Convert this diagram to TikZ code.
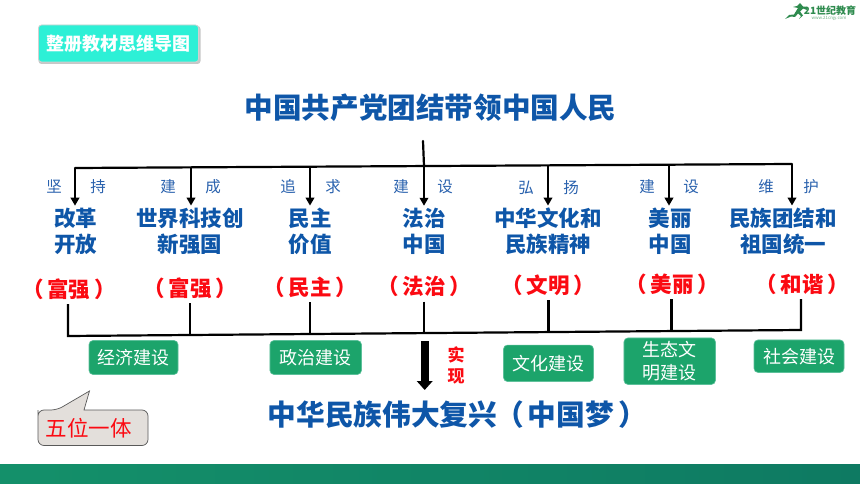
\documentclass[tikz,border=0pt]{standalone}
\usepackage{fontspec}
\setmainfont{Noto Sans CJK SC}
\usetikzlibrary{arrows.meta}
\definecolor{navy}{HTML}{0E56A8}
\definecolor{kai}{HTML}{2A62AE}
\definecolor{hot}{HTML}{FB0A12}
\definecolor{leaf}{HTML}{1CA46B}
\definecolor{leafedge}{HTML}{5CC09A}
\definecolor{aqua}{HTML}{2DF0D6}
\definecolor{stone}{HTML}{E3DFDB}
\definecolor{barl}{HTML}{14906A}
\definecolor{barr}{HTML}{0E7A62}
\definecolor{logo}{HTML}{2E8B4E}
\tikzset{
  x=1pt,y=-1pt,
  headline/.style={inner sep=0,text=navy,font=\fontsize{#1}{#1}\selectfont\bfseries},
  goal/.style={inner sep=0,outer sep=2pt,text=navy,align=center,font=\fontsize{21.5}{26}\selectfont\bfseries},
  verb/.style={inner sep=0,text=kai,font=\fontsize{15.5}{16}\selectfont},
  value/.style={inner sep=0,minimum height=30pt,text=hot,font=\fontsize{21.5}{21.5}\selectfont\bfseries},
  field/.style={draw=leafedge,line width=.6pt,fill=leaf,rounded corners=4pt,text=white,align=center,inner sep=0,font=\fontsize{18}{23}\selectfont},
  bus/.style={line width=2.2pt,line cap=round,line join=miter,draw=black},
  arrowline/.style={line width=2pt,draw=black,-{Triangle[length=8pt,width=8.5pt]}},
}
\begin{document}
\begin{tikzpicture}
\useasboundingbox (0,0) rectangle (860,484);
\fill[white] (0,0) rectangle (860,484);
% bottom bar
\shade[left color=barl,right color=barr] (0,464) rectangle (860,484);
% logo
\fill[logo] (785,19) -- (791,16.5) -- (795,17) -- (798,13.5) -- (801,16) -- (799,19) -- (803,15.5) -- (800,11.5) -- (803,8.5) -- (807,10) -- (807,7) -- (803,6.5) -- (800,3) -- (797,6) -- (793,7) -- (798,8) -- (794,14.5) -- (789,15) -- cycle;
\node[inner sep=0,text=logo,font=\fontsize{10}{10}\selectfont\bfseries\itshape] (logotext) at (830,11) {21世纪教育};
\node[inner sep=0,text=logo!70,font=\fontsize{4.4}{5}\selectfont] (logourl) at (829,18) {www.21cnjy.com};
% button
\fill[black!22,rounded corners=3pt] (38.5,26) rectangle (200.5,64);
\node[draw=black!18,line width=.8pt,fill=aqua,rounded corners=3pt,minimum width=160pt,minimum height=37pt,inner sep=0,text=white,font=\fontsize{18}{18}\selectfont\bfseries] (btn) at (118.5,43.5) {整册教材思维导图};
% title
\node[headline=28.6] (title) at (430.5,108) {中国共产党团结带领中国人民};
\coordinate (tt) at (423,141);
% goals
\node[goal] (g1) at (75.5,231) {改革\\开放};
\node[goal] (g2) at (190,231) {世界科技创\\新强国};
\node[goal] (g3) at (310,231) {民主\\价值};
\node[goal] (g4) at (424,231) {法治\\中国};
\node[goal] (g5) at (548,231) {中华文化和\\民族精神};
\node[goal] (g6) at (670,231) {美丽\\中国};
\node[goal] (g7) at (783,231) {民族团结和\\祖国统一};
% upper bus
\coordinate (b1) at (75,168);
\coordinate (b2) at (191,167.6);
\coordinate (b3) at (310,166.9);
\coordinate (b4) at (424,166);
\coordinate (b5) at (548,165.4);
\coordinate (b6) at (669,164.7);
\coordinate (b7) at (792,164);
\draw[bus] (b1) -- (b7);
\draw[bus] (tt) -- (b4);
\foreach \i in {1,...,7}{\draw[arrowline] (b\i) -- (b\i |- g\i.north);}
% verbs
\node[verb] (v1a) at (54,187) {坚};
\node[verb] (v1b) at (98,187) {持};
\node[verb] (v2a) at (168,187) {建};
\node[verb] (v2b) at (213,187) {成};
\node[verb] (v3a) at (288,187) {追};
\node[verb] (v3b) at (333,187) {求};
\node[verb] (v4a) at (401,187) {建};
\node[verb] (v4b) at (445,187) {设};
\node[verb] (v5a) at (526,188) {弘};
\node[verb] (v5b) at (571,188) {扬};
\node[verb] (v6a) at (647,187) {建};
\node[verb] (v6b) at (691,187) {设};
\node[verb] (v7a) at (766,187) {维};
\node[verb] (v7b) at (811,187) {护};
% values
\node[value] (r1) at (69,289) {（\hspace{4pt}富强\hspace{4pt}）};
\node[value] (r2) at (190,288) {（\hspace{4pt}富强\hspace{4pt}）};
\node[value] (r3) at (310,287) {（\hspace{4pt}民主\hspace{4pt}）};
\node[value] (r4) at (424,286.5) {（\hspace{4pt}法治\hspace{4pt}）};
\node[value] (r5) at (548,285) {（\hspace{4pt}文明\hspace{4pt}）};
\node[value] (r6) at (672,284) {（\hspace{4pt}美丽\hspace{4pt}）};
\node[value] (r7) at (802,284) {（\hspace{4pt}和谐\hspace{4pt}）};
% lower bus
\coordinate (l1) at (68,336);
\coordinate (l2) at (190,335);
\coordinate (l3) at (310,334);
\coordinate (l4) at (424,333);
\coordinate (l5) at (548.5,332);
\coordinate (l6) at (671.5,331);
\coordinate (l7) at (801,330);
\draw[bus,line cap=butt] (l1 |- r1.south) -- (l1) -- (l7) -- (l7 |- r7.south);
\foreach \i in {2,...,6}{\draw[bus,line cap=butt] (l\i |- r\i.south) -- (l\i);}
% fields
\node[field,minimum width=89pt,minimum height=34pt] (f1) at (133.5,357.5) {经济建设};
\node[field,minimum width=91.5pt,minimum height=34pt] (f2) at (315.7,357.5) {政治建设};
\node[field,minimum width=90pt,minimum height=36.5pt] (f3) at (548.5,363.3) {文化建设};
\node[field,minimum width=91.5pt,minimum height=46.5pt] (f4) at (669.7,361.2) {生态文\\明建设};
\node[field,minimum width=90pt,minimum height=32.5pt] (f5) at (799,356.2) {社会建设};
% realize
\coordinate (a0) at (424.7,341);
\node[headline=28.7] (dream) at (457.5,415) {中华民族伟大复兴\hspace{-2pt}（\hspace{-1pt}\,中国梦\,\hspace{0pt}）};
\coordinate (a1) at (424.7,390);
\draw[line width=8pt,draw=black,-{Triangle[length=9pt,width=15.5pt]}] (a0) -- (a1);
\node[inner sep=0,text=hot,align=center,font=\fontsize{17}{21}\selectfont\bfseries] (shi) at (456,365.5) {实\\现};
% callout
\draw[draw=black!65,line width=.7pt,fill=stone,rounded corners=6pt]
  (38,416) -- (38,410) -- (57,410) [sharp corners] -- (89.5,391) -- (84,410) [rounded corners=6pt] -- (148,410) -- (148,445.5) -- (38,445.5) -- cycle;
\node[inner sep=0,text=hot,font=\fontsize{21.5}{21.5}\selectfont] (wu) at (88.5,428) {五位一体};
\end{tikzpicture}
\end{document}
